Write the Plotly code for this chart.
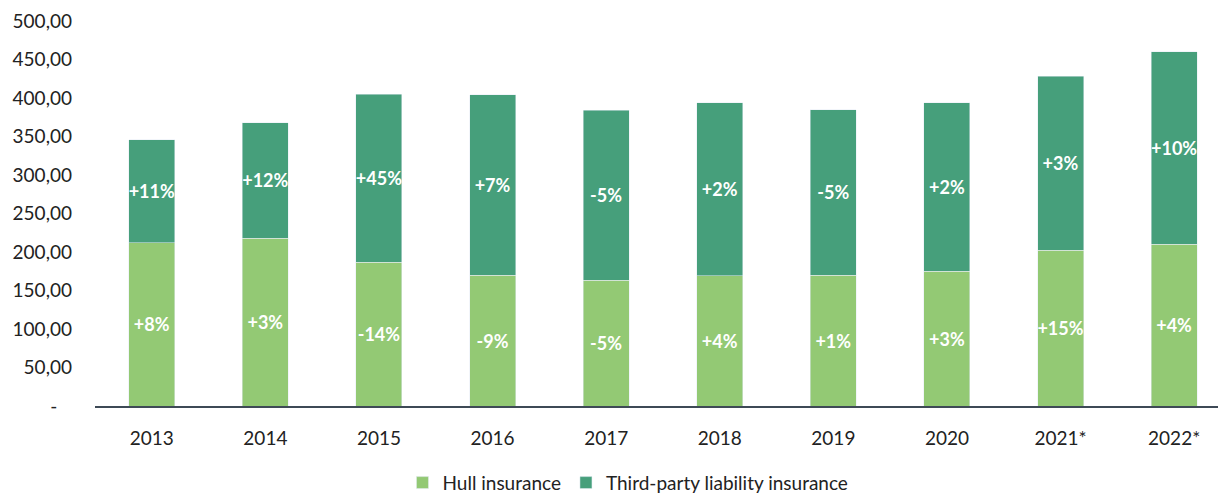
import plotly.graph_objects as go

years = ["2013", "2014", "2015", "2016", "2017", "2018", "2019", "2020", "2021*", "2022*"]
hull = [212, 218, 187, 170, 163, 169, 170, 175, 202, 210]
tpl_total = [346, 368, 405, 404, 384, 394, 385, 394, 428, 460]
tpl = [t - h for t, h in zip(tpl_total, hull)]
hull_labels = ["+8%", "+3%", "-14%", "-9%", "-5%", "+4%", "+1%", "+3%", "+15%", "+4%"]
tpl_labels = ["+11%", "+12%", "+45%", "+7%", "-5%", "+2%", "-5%", "+2%", "+3%", "+10%"]

tick_vals = [0, 50, 100, 150, 200, 250, 300, 350, 400, 450, 500]
tick_text = ["-\u00a0\u00a0\u00a0", "50,00", "100,00", "150,00", "200,00", "250,00",
             "300,00", "350,00", "400,00", "450,00", "500,00"]

FONT = "Lato"
LIGHT = "#93C974"
DARK = "#469F7B"

fig = go.Figure()
fig.add_trace(go.Bar(
    x=years, y=hull, name="Hull insurance", marker_color=LIGHT,
    text=hull_labels, textposition="inside", insidetextanchor="middle", textangle=0,
    textfont=dict(family=FONT, size=18, color="white", weight="bold"),
))
fig.add_trace(go.Bar(
    x=years, y=tpl, name="Third-party liability insurance", marker_color=DARK,
    text=tpl_labels, textposition="inside", insidetextanchor="middle", textangle=0,
    textfont=dict(family=FONT, size=18, color="white", weight="bold"),
))

fig.update_layout(
    width=1218, height=493,
    barmode="stack", bargap=0.595,
    plot_bgcolor="white", paper_bgcolor="white",
    margin=dict(l=95, r=0, t=21, b=86.5, autoexpand=False),
    font=dict(family=FONT, size=19, color="#222222"),
    uniformtext=dict(minsize=18, mode="show"),
    legend=dict(orientation="h", x=0.4746, xanchor="center",
                y=-0.15, yanchor="top", font=dict(size=19, color="#222222"),
                traceorder="normal"),
    xaxis=dict(range=[-0.5, 9.386], showgrid=False, showline=True,
               linecolor="#3E4A56", linewidth=2, ticks="", ticklabelstandoff=14,
               tickangle=0, automargin=False, tickfont=dict(size=19)),
    yaxis=dict(range=[0, 500], tickvals=tick_vals, ticktext=tick_text,
               showgrid=False, zeroline=False, showline=False, ticks="",
               automargin=False, ticklabelstandoff=22, tickfont=dict(size=19)),
)

fig.write_html("out.html")
